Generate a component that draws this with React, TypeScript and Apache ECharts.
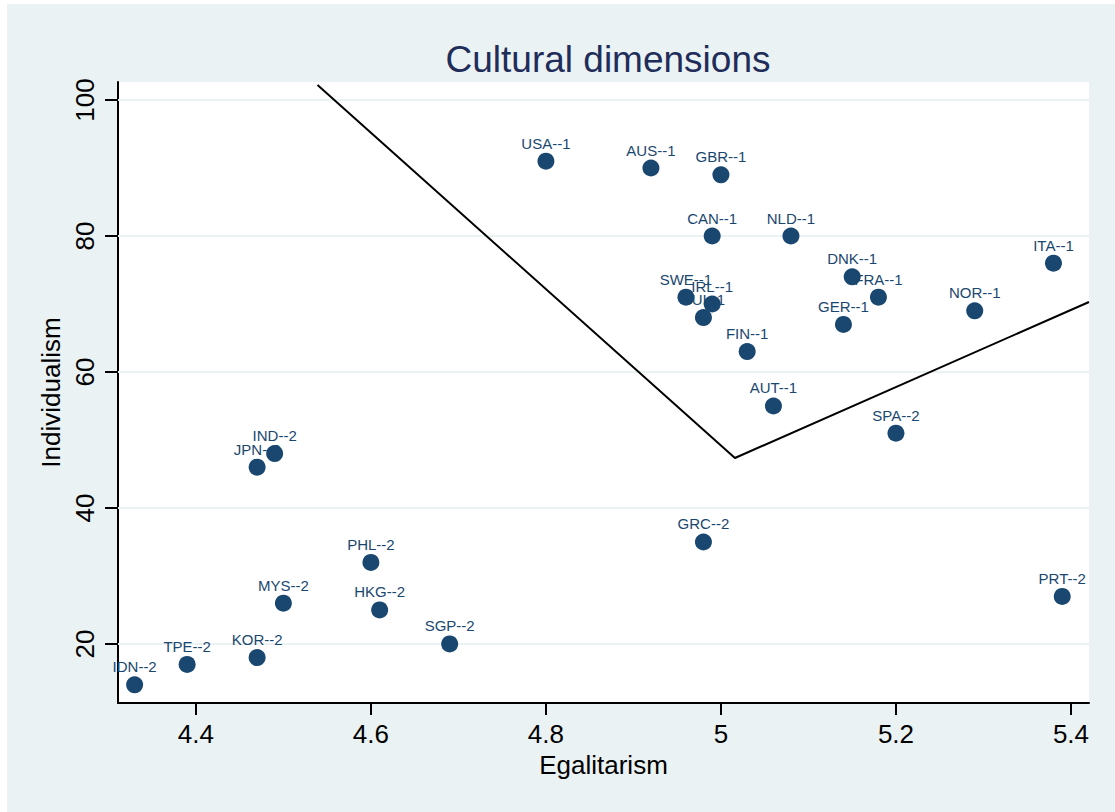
import React, { useEffect, useRef } from "react";
import * as echarts from "echarts";

const countries = ["USA--1","AUS--1","GBR--1","CAN--1","NLD--1","DNK--1","FRA--1","ITA--1","NOR--1","SWE--1","IRL--1","SUI--1","GER--1","FIN--1","AUT--1","SPA--2","IND--2","JPN--2","GRC--2","PHL--2","MYS--2","HKG--2","PRT--2","SGP--2","KOR--2","TPE--2","IDN--2"];
const egalitarism = [4.80,4.92,5.00,4.99,5.08,5.15,5.18,5.38,5.29,4.96,4.99,4.98,5.14,5.03,5.06,5.20,4.49,4.47,4.98,4.60,4.50,4.61,5.39,4.69,4.47,4.39,4.33];
const individualism = [91,90,89,80,80,74,71,76,69,71,70,68,67,63,55,51,48,46,35,32,26,25,27,20,18,17,14];

const lineX = [4.539, 5.016, 5.4206];
const lineY = [102.2, 47.35, 70.3];

const xTicks = [4.4, 4.6, 4.8, 5.0, 5.2, 5.4];
const yTicks = [20, 40, 60, 80, 100];

const FONT = "'Liberation Sans', Arial, sans-serif";
const NAVY = "#1a476f";

export default function App() {
  const ref = useRef<HTMLDivElement>(null);
  useEffect(() => {
    if (!ref.current) return;
    const chart = echarts.init(ref.current, null, { renderer: "svg" });
    const points = countries.map((n, i) => ({ name: n, value: [egalitarism[i], individualism[i]] }));
    chart.setOption({
      animation: false,
      backgroundColor: "#EAF2F3",
      textStyle: { fontFamily: FONT },
      title: {
        text: "Cultural dimensions",
        left: 596,
        top: 32,
        textAlign: "center",
        textStyle: { fontFamily: FONT, fontSize: 37, fontWeight: "normal", color: "#1f2d5a" },
      },
      grid: { left: 111, top: 78, right: 26, bottom: 109, show: true, backgroundColor: "#ffffff", borderWidth: 0 },
      xAxis: {
        type: "value",
        min: 4.311,
        max: 5.4206,
        name: "Egalitarism",
        nameLocation: "middle",
        nameGap: 46,
        nameTextStyle: { fontFamily: FONT, fontSize: 26, color: "#000" },
        axisLine: { show: true, lineStyle: { color: "#000", width: 2 } },
        axisTick: { show: true, length: 12, lineStyle: { color: "#000", width: 2 }, customValues: xTicks },
        axisLabel: { customValues: xTicks, fontFamily: FONT, fontSize: 26, color: "#000", margin: 18,
          formatter: (v: number) => (Math.abs(v - 5) < 1e-9 ? "5" : String(v)) },
        splitLine: { show: false },
      },
      yAxis: {
        type: "value",
        min: 11.32,
        max: 102.65,
        name: "Individualism",
        nameLocation: "middle",
        nameGap: 50,
        nameTextStyle: { fontFamily: FONT, fontSize: 26, color: "#000" },
        axisLine: { show: true, lineStyle: { color: "#000", width: 2 } },
        axisTick: { show: true, length: 13, lineStyle: { color: "#000", width: 2 }, customValues: yTicks },
        axisLabel: { customValues: yTicks, rotate: 90, fontFamily: FONT, fontSize: 26, color: "#000", margin: 20 },
        splitLine: { show: false },
      },
      series: [
        {
          type: "line",
          data: [],
          z: 1,
          markLine: {
            silent: true,
            z: 1,
            symbol: "none",
            label: { show: false },
            lineStyle: { color: "#EAF2F3", width: 2, type: "solid" },
            data: yTicks.map((t) => ({ yAxis: t })),
          },
        },
        {
          type: "line",
          data: lineX.map((x, i) => [x, lineY[i]]),
          showSymbol: false,
          symbol: "none",
          lineStyle: { color: "#000", width: 2 },
          z: 3,
        },
        {
          type: "scatter",
          data: points,
          symbolSize: 17,
          itemStyle: { color: NAVY, opacity: 1 },
          z: 4,
          label: {
            show: true,
            position: "top",
            distance: 2,
            formatter: (p: any) => p.name,
            fontFamily: FONT,
            fontSize: 15,
            color: NAVY,
          },
        },
      ],
    });
    return () => chart.dispose();
  }, []);
  return (
    <div style={{ position: "fixed", left: 0, top: 0, width: 1115, height: 812, background: "#fff" }}>
      <div ref={ref} style={{ position: "absolute", left: 7, top: 4, width: 1108, height: 808 }} />
    </div>
  );
}
